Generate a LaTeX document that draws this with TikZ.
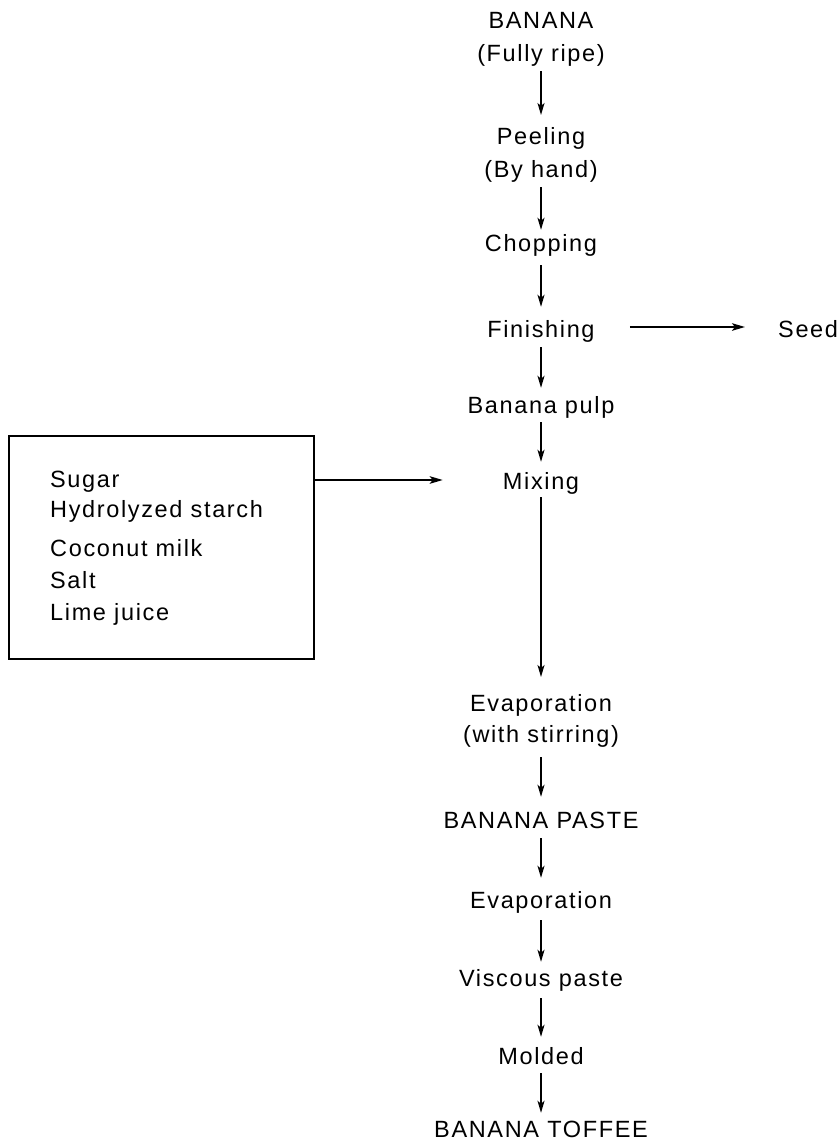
\documentclass[tikz,border=0pt]{standalone}
\usepackage{fontspec}
\setmainfont{Liberation Sans}[LetterSpace=7]
\usetikzlibrary{arrows.meta}
\tikzset{
  stage/.style={font=\fontsize{23.5}{33}\selectfont, inner sep=0pt, text height=17pt, text depth=5pt, anchor=base},
  stagetwo/.style={font=\fontsize{23.5}{33}\selectfont, inner sep=0pt, align=center, anchor=north},
  arr/.style={-{Stealth[length=12pt,width=7pt,inset=3pt]}, line width=1.5pt},
  harr/.style={-{Stealth[length=13pt,width=7.5pt,inset=3pt]}, line width=2pt},
  boxframe/.style={draw, line width=2.3pt, minimum width=305pt, minimum height=223pt, anchor=north west, inner sep=0pt},
  ingr/.style={font=\fontsize{23.5}{33}\selectfont, inner sep=0pt, align=left, anchor=north west}
}
\begin{document}
\begin{tikzpicture}[x=1pt,y=-1pt]
\useasboundingbox (0,0) rectangle (839,1142);
\fill[white] (0,0) rectangle (839,1142);

\node[stagetwo] (banana) at (541,12) {BANANA\\(Fully ripe)};
\node[stagetwo] (peel) at (541,127) {Peeling\\(By hand)};
\node[stage] (chop) at (541,251) {Chopping};
\node[stage] (finish) at (541,337) {Finishing};
\node[stage, anchor=base west] (seed) at (778,337) {Seed};
\node[stage] (pulp) at (541,413) {Banana pulp};
\node[stage] (mix) at (541,489) {Mixing};
\node[stagetwo] (evap1) at (541,694) {Evaporation\\[-2pt](with stirring)};
\node[stage] (paste) at (541,828) {BANANA PASTE};
\node[stage] (evap2) at (541,908) {Evaporation};
\node[stage] (visc) at (541,986) {Viscous paste};
\node[stage] (mold) at (541,1064) {Molded};
\node[stage] (toffee) at (541,1137) {BANANA TOFFEE};

\node[boxframe] (box) at (8,435) {};
\node[ingr] (list) at (50,471) {Sugar\\[-3pt]Hydrolyzed starch\\[6pt]Coconut milk\\[-1pt]Salt\\[-1pt]Lime juice};

\draw[arr, shorten <=5pt, shorten >=12pt] (banana.south) -- (peel.north);
\draw[arr, shorten <=5pt, shorten >=4pt] (peel.south) -- (chop.north);
\draw[arr, shorten <=9pt, shorten >=13pt] (chop.south) -- (finish.north);
\draw[arr, shorten <=5pt, shorten >=8pt] (finish.south) -- (pulp.north);
\draw[arr, shorten <=4pt, shorten >=10pt] (pulp.south) -- (mix.north);
\draw[arr, shorten <=3pt, shorten >=17pt] (mix.south) -- (evap1.north);
\draw[arr, shorten <=10pt, shorten >=14pt] (evap1.south) -- (paste.north);
\draw[arr, shorten <=5pt, shorten >=13pt] (paste.south) -- (evap2.north);
\draw[arr, shorten <=7pt, shorten >=7pt] (evap2.south) -- (visc.north);
\draw[arr, shorten <=7pt, shorten >=10pt] (visc.south) -- (mold.north);
\draw[arr, shorten <=4pt, shorten >=7pt] (mold.south) -- (toffee.north);

\draw[harr, shorten <=35pt, shorten >=33pt] ([yshift=4pt]finish.east) -- ([yshift=4pt]seed.west);
\draw[harr, shorten >=60pt] ([yshift=3pt]box.east |- mix.west) -- ([yshift=3pt]mix.west);
\end{tikzpicture}
\end{document}
